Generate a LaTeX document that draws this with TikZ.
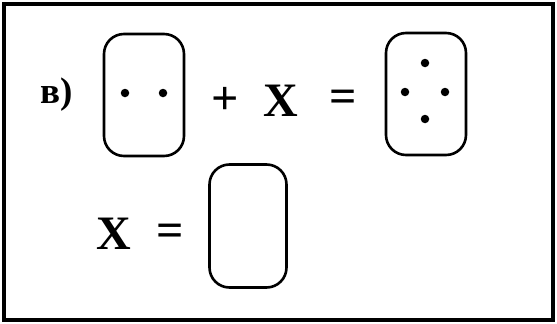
\documentclass[tikz,border=0pt]{standalone}
\usepackage{fontspec}
\setmainfont{Liberation Serif}
\begin{document}
\begin{tikzpicture}[x=1pt,y=-1pt,
  every node/.style={font=\fontsize{48}{52}\selectfont\bfseries,inner sep=0pt},
  card/.style={draw,line width=2.6pt,rounded corners=20pt,minimum width=80pt,minimum height=122pt},
  dot/.style={fill,circle,inner sep=0pt,minimum size=8.5pt}]
 \useasboundingbox (0,0) rectangle (557,324);
 \draw[line width=3.5pt] (4,4) rectangle (553,320);
 % top row
 \node[font=\fontsize{37}{40}\selectfont\bfseries,anchor=base] (lbl) at (57,103) {в)};
 \node[card] (left) at (144,95) {};
 \node (plus) at (225,101) {+};
 \node (x1) at (281,101) {X};
 \node (eq1) at (343,101) {=};
 \node[card] (right) at (426,94) {};
 \foreach \p in {(125,93),(163,93)}{\node[dot] at \p {};}
 \foreach \p in {(425,63),(405,92),(445,92),(425,119)}{\node[dot] at \p {};}
 % bottom row
 \node (x2) at (114,234) {X};
 \node (eq2) at (170,235) {=};
 \node[card,minimum width=77pt,minimum height=123pt] (ans) at (248,226) {};
\end{tikzpicture}
\end{document}
